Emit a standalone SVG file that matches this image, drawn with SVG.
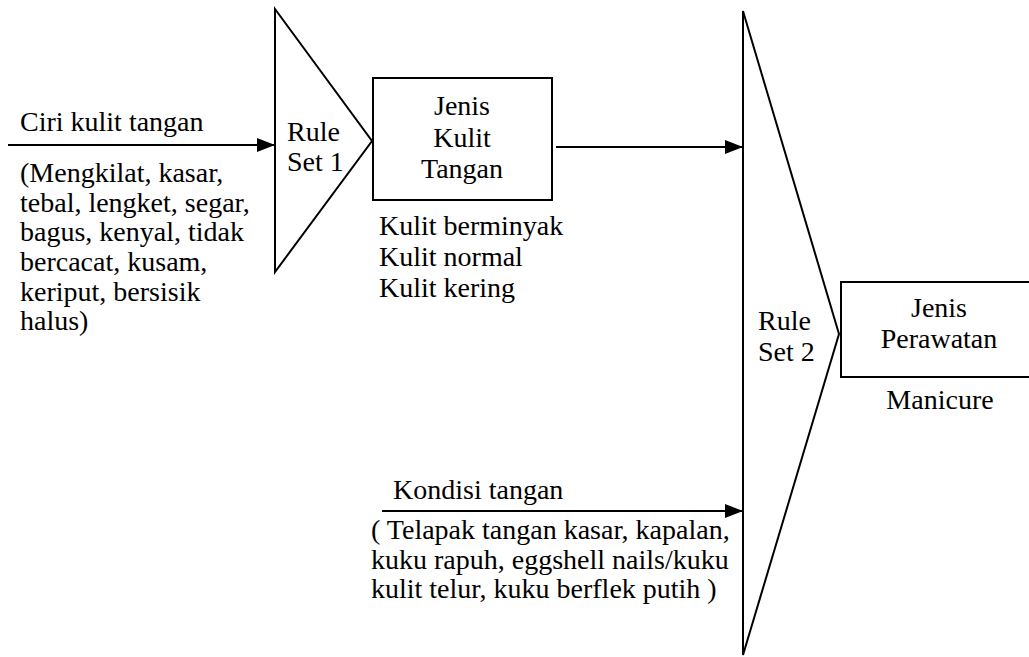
<svg xmlns="http://www.w3.org/2000/svg" width="1029" height="657" viewBox="0 0 1029 657">
<style>
text{font-family:'Liberation Serif','Times New Roman',Tinos,'DejaVu Serif',serif;font-size:28px;fill:#000}
.c{text-anchor:middle}
.s{fill:#fff;stroke:#000;stroke-width:2}
.l{stroke:#000;stroke-width:2;fill:none}
</style>
<defs>
<marker id="ah" markerUnits="userSpaceOnUse" markerWidth="18" markerHeight="14" refX="18" refY="7" orient="auto">
<path d="M0,0 L18,7 L0,14 Z" fill="#000"/>
</marker>
</defs>
<rect width="1029" height="657" fill="#fff"/>
<g id="connectors">
<line class="l" x1="8" y1="145" x2="275" y2="145" marker-end="url(#ah)"/>
<line class="l" x1="556" y1="147" x2="743" y2="147" marker-end="url(#ah)"/>
<line class="l" x1="382" y1="511" x2="743" y2="511" marker-end="url(#ah)"/>
</g>
<g id="input1" font-family="Liberation Serif, serif">
<text x="20" y="131">Ciri kulit tangan</text>
<text x="20" y="182">(Mengkilat, kasar,</text>
<text x="20" y="212">tebal, lengket, segar,</text>
<text x="20" y="241">bagus, kenyal, tidak</text>
<text x="20" y="271">bercacat, kusam,</text>
<text x="20" y="301">keriput, bersisik</text>
<text x="20" y="330">halus)</text>
</g>
<g id="ruleset1">
<polygon class="s" points="275,9 372,141 275,272"/>
<text x="287" y="141">Rule</text>
<text x="287" y="171">Set 1</text>
</g>
<g id="jenis-kulit">
<rect class="s" x="373" y="78" width="179" height="122"/>
<text class="c" x="462" y="115">Jenis</text>
<text class="c" x="462" y="147">Kulit</text>
<text class="c" x="462" y="178">Tangan</text>
<text x="379" y="235">Kulit berminyak</text>
<text x="379" y="266">Kulit normal</text>
<text x="379" y="297">Kulit kering</text>
</g>
<g id="input2">
<text x="393" y="499">Kondisi tangan</text>
<text x="371" y="539">( Telapak tangan kasar, kapalan,</text>
<text x="371" y="569">kuku rapuh, eggshell nails/kuku</text>
<text x="371" y="598">kulit telur, kuku berflek putih )</text>
</g>
<g id="ruleset2">
<polygon class="s" points="743,11 839,334 743,655"/>
<text x="758" y="330">Rule</text>
<text x="758" y="361">Set 2</text>
</g>
<g id="jenis-perawatan">
<rect class="s" x="841" y="282" width="200" height="95"/>
<text class="c" x="939" y="317">Jenis</text>
<text class="c" x="939" y="348">Perawatan</text>
<text class="c" x="940" y="409">Manicure</text>
</g>
</svg>
